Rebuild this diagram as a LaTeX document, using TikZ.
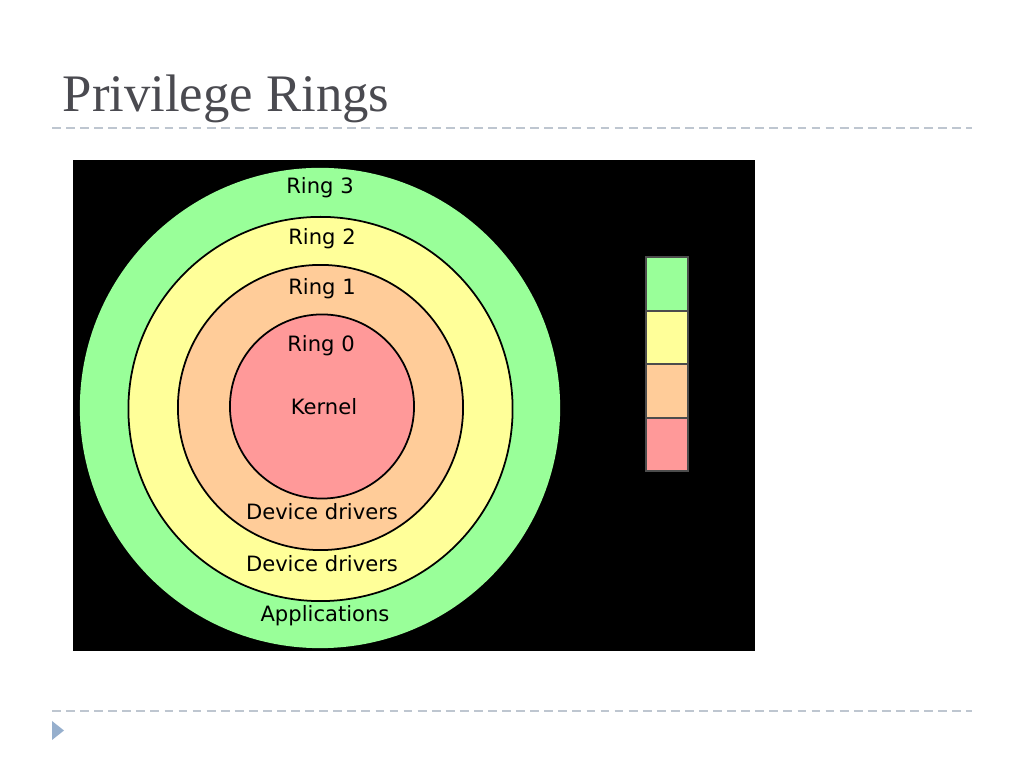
\documentclass[tikz,border=0pt]{standalone}
\usepackage{fontspec}
\setmainfont{Liberation Serif}
\newfontfamily\ringfont{DejaVu Sans}
\usetikzlibrary{positioning}
\definecolor{grn}{RGB}{153,255,153}
\definecolor{ylw}{RGB}{255,255,153}
\definecolor{org}{RGB}{255,204,153}
\definecolor{rd}{RGB}{255,153,153}
\definecolor{titlegray}{RGB}{74,74,80}
\definecolor{rulegray}{RGB}{190,198,208}
\definecolor{bullet}{RGB}{150,175,205}
\begin{document}
\begin{tikzpicture}[x=0.01cm,y=-0.01cm]
\tikzstyle{ring} = [circle, inner sep=0pt, draw=black, line width=0.5pt]
\tikzstyle{lbl} = [font=\ringfont\fontsize{6}{7}\selectfont, text=black, inner sep=0pt]
\tikzstyle{legbox} = [rectangle, inner sep=0pt, outer sep=0pt, minimum width=0.42cm, minimum height=0.535cm, draw=black!70, line width=0.5pt]
\tikzstyle{rule} = [rulegray, dashed, line width=0.6pt, dash pattern=on 2.5pt off 1.5pt]
% page
\fill[white] (0,0) rectangle (1024,768);
\node (title) [anchor=base west, text=titlegray, font=\fontsize{15}{18}\selectfont, inner sep=0pt] at (62,112) {Privilege Rings};
\draw[rule] (52,128) -- (972,128);
\draw[rule] (52,711) -- (972,711);
\fill[bullet] (52,721) -- (64,730.5) -- (52,740) -- cycle;
% diagram
\fill[black] (73,160) rectangle (755,651);
\begin{scope}
\clip (73,160) rectangle (755,651);
\node (ring3) [circle, inner sep=0pt, fill=grn, minimum size=4.8cm] at (320,408) {};
\end{scope}
\node (ring2) [ring, fill=ylw, minimum size=3.84cm] at (320.5,409) {};
\node (ring1) [ring, fill=org, minimum size=2.85cm] at (320.5,407.5) {};
\node (ring0) [ring, fill=rd, minimum size=1.84cm] at (322,406.5) {};
\node (t3) [lbl] at (320,188) {Ring 3};
\node (t2) [lbl] at (322,239) {Ring 2};
\node (t1) [lbl] at (322,289) {Ring 1};
\node (t0) [lbl] at (321,346) {Ring 0};
\node (kern) [lbl] at (324,407) {Kernel};
\node (dd1) [lbl] at (322,512) {Device drivers};
\node (dd2) [lbl] at (322,564) {Device drivers};
\node (apps) [lbl] at (325,616) {Applications};
% legend
\node (leg3) [legbox, fill=grn] at (667,284) {};
\node (leg2) [legbox, fill=ylw, below=0pt of leg3] {};
\node (leg1) [legbox, fill=org, below=0pt of leg2] {};
\node (leg0) [legbox, fill=rd, below=0pt of leg1] {};
\end{tikzpicture}
\end{document}
